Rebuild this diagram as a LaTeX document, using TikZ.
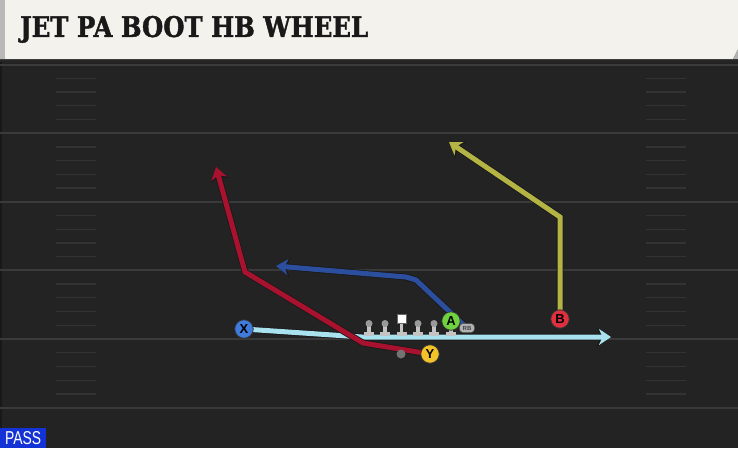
\documentclass[tikz,border=0pt]{standalone}
\usepackage{fontspec}
\usepackage{graphicx}
\usetikzlibrary{arrows.meta}
\newfontfamily\titlefont{DejaVu Serif}[BoldFeatures={FakeBold=1.6}]
\newfontfamily\labelfont{Liberation Sans}
\definecolor{fieldbg}{HTML}{232323}
\definecolor{yardline}{HTML}{3A3A3A}
\definecolor{hashc}{HTML}{333333}
\definecolor{titlebg}{HTML}{F4F2EC}
\definecolor{routered}{HTML}{A8122E}
\definecolor{routeblue}{HTML}{2B4E9E}
\definecolor{routeolive}{HTML}{B4B445}
\definecolor{routecyan}{HTML}{A8E2EE}
\definecolor{passblue}{HTML}{1433D6}
\definecolor{xblue}{HTML}{3F7BDB}
\definecolor{yyellow}{HTML}{F2C22A}
\definecolor{agreen}{HTML}{6FD23E}
\definecolor{bred}{HTML}{E0303E}
\definecolor{linegray}{HTML}{C4C4C4}
\definecolor{headgray}{HTML}{9A9A9A}
\tikzset{
  route/.style={draw=#1, line width=5pt, line join=miter, miter limit=4,
    -{Stealth[length=12pt,width=16pt,inset=3.5pt]},
    preaction={draw=black!90, line width=6.6pt, line join=miter, miter limit=4,
      -{Stealth[length=14pt,width=19pt,inset=4pt]}}},
  player/.style={circle, draw=black!80, line width=0.8pt, fill=#1, minimum size=18.5pt,
    inner sep=0pt, font=\labelfont\bfseries\fontsize{13}{13}\selectfont, text=black},
  yard/.style={draw=yardline, line width=2pt},
  hashmark/.style={draw=hashc, line width=1.3pt},
}
\begin{document}
\begin{tikzpicture}[x=1pt,y=-1pt]
\useasboundingbox (0,0) rectangle (738,448);
% field
\fill[fieldbg] (0,0) rectangle (738,448);
\fill[black!30!fieldbg] (0,59) rectangle (2,448);
% yard lines and hash marks
\foreach \i in {0,...,5} {
  \pgfmathsetmacro\yy{64.6+68.6*\i}
  \draw[yard] (0,\yy) -- (738,\yy);
}
\foreach \i in {0,...,4} {
  \foreach \j in {1,...,4} {
    \pgfmathsetmacro\yy{64.6+68.6*\i+13.72*\j}
    \draw[hashmark] (56,\yy) -- (96,\yy);
    \draw[hashmark] (646,\yy) -- (686,\yy);
  }
}
% title bar
\fill[black!85] (0,58) rectangle (738,62);
\fill[titlebg] (0,0) -- (738,0) -- (738,49) -- (733,59) -- (0,59) -- cycle;
\fill[gray!60] (738,49) -- (733,59) -- (738,59) -- cycle;
\fill[gray!55] (0,0) rectangle (5,59);
\node[anchor=south west, inner sep=0pt, text=black!90] (title) at (20,43)
  {\resizebox{348pt}{21pt}{\titlefont\bfseries JET PA BOOT HB WHEEL}};
% PASS label
\fill[passblue] (0,427.5) rectangle (46,448);
\node[anchor=south west, inner sep=0pt, text=white] (pass) at (5,445)
  {\resizebox{36pt}{13pt}{\labelfont PASS}};
% player positions
\coordinate (pX) at (244,329);
\coordinate (pY) at (430,354);
\coordinate (pA) at (451,321);
\coordinate (pB) at (560,319);
\coordinate (pRB) at (467,328);
% route points
\coordinate (x1) at (362,337);
\coordinate (xend) at (611,337);
\coordinate (y1) at (363,343);
\coordinate (y2) at (245,272);
\coordinate (yend) at (216,167);
\coordinate (r1) at (416,280);
\coordinate (r2) at (406,277);
\coordinate (rend) at (276,266);
\coordinate (b1) at (560,217);
\coordinate (bend) at (449,142);
% routes
\draw[route=routecyan] (pX) -- (x1) -- (xend);
\draw[route=routeblue] (pRB) -- (r1) -- (r2) -- (rend);
\draw[route=routeolive] (pB) -- (b1) -- (bend);
\draw[route=routered] (pY) -- (y1) -- (y2) -- (yend);
% linemen
\foreach \lx/\nm in {369/lt,385/lg,418/rg,434/rt,451/te} {
  \fill[linegray] (\lx-5,331.5) rectangle (\lx+5,335.5);
  \fill[linegray] (\lx-1.6,324) rectangle (\lx+1.6,332);
  \node[circle, fill=headgray, minimum size=7pt, inner sep=0pt] (\nm) at (\lx,323.5) {};
}
\fill[linegray] (396.5,331.5) rectangle (406.5,335.5);
\fill[linegray] (400,322) rectangle (403,332);
\node[draw=black!60, line width=0.4pt, fill=white, minimum size=9.5pt, inner sep=0pt] (center) at (401.5,318.5) {};
% QB dot
\node[circle, fill=black!55, minimum size=9pt, inner sep=0pt] (qb) at (401,354) {};
% RB
\node[draw=black!70, line width=0.5pt, fill=black!30, rounded corners=3.5pt, minimum width=15pt, minimum height=9pt, inner sep=0pt,
  font=\labelfont\bfseries\fontsize{6}{6}\selectfont, text=black!75] (RB) at (pRB) {RB};
% skill players
\node[player=xblue] (X) at (pX) {X};
\node[player=yyellow] (Y) at (pY) {Y};
\node[player=agreen] (A) at (pA) {A};
\node[player=bred] (B) at (pB) {B};
\end{tikzpicture}
\end{document}
